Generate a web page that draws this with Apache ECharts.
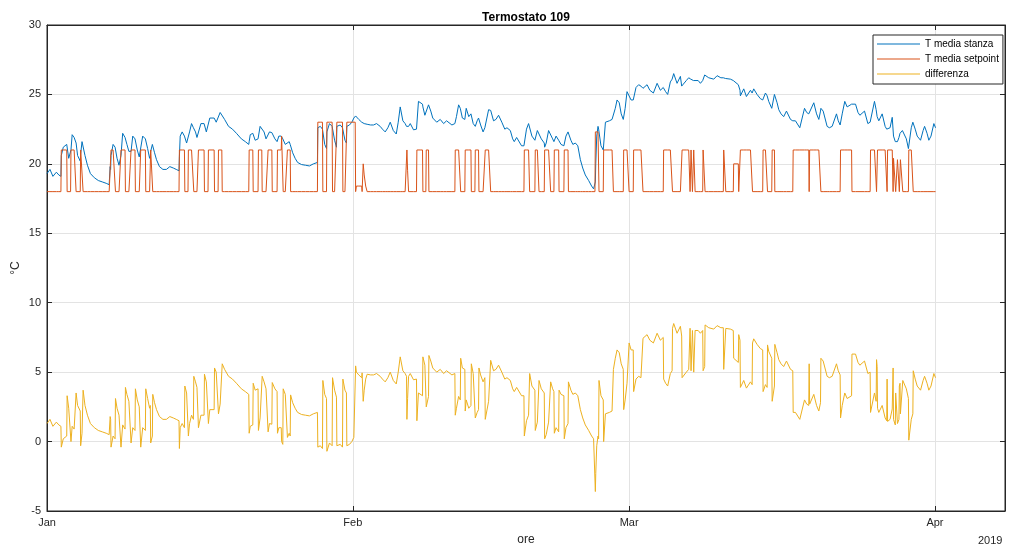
<!DOCTYPE html>
<html>
<head>
<meta charset="utf-8">
<script src="https://cdn.jsdelivr.net/npm/echarts@6/dist/echarts.min.js"></script>
<style>
html,body{margin:0;padding:0;background:#fff;}
#chart{width:1013px;height:552px;}
</style>
</head>
<body>
<div id="chart"></div>
<script>
// x values are days since 1 Jan 2019 00:00; rows are [day, T media stanza, T media setpoint]
const readingsJan = [
[0.00,19.3,18],[0.30,19.6,18],[0.60,19.1,18],[0.95,19.4,18],[1.20,19.2,18],[1.41,19.1,18],
[1.45,20.6,21],[1.65,21.2,21],[2.00,21.4,21],[2.04,21.3,18],[2.20,20.4,18],[2.39,20.3,18],
[2.43,21.0,21],[2.55,22.1,21],[2.75,21.9,21],[2.91,21.8,21],[2.95,21.5,18],[3.10,20.6,18],[3.37,20.2,18],
[3.41,20.7,21],[3.55,21.6,21],[3.62,21.7,21],[3.66,21.7,18],[3.85,20.6,18],[4.10,19.9,18],[4.40,19.3,18],[4.80,19.0,18],[5.20,18.8,18],[5.60,18.7,18],[6.00,18.6,18],[6.30,18.5,18],[6.40,19.8,18],[6.45,19.6,18],
[6.49,20.6,21],[6.70,21.4,21],[6.90,21.2,21],[6.94,21.1,18],[7.10,20.4,18],[7.30,19.9,18],[7.46,19.9,18],
[7.50,20.6,21],[7.67,22.2,21],[7.91,21.9,21],[7.95,21.9,18],[8.10,21.4,18],[8.30,20.9,18],[8.48,20.8,18],
[8.52,20.9,21],[8.69,22.0,21],[8.92,21.8,21],[8.96,21.8,18],[9.15,21.0,18],[9.35,20.5,18],[9.46,20.5,18],
[9.50,20.6,21],[9.70,22.0,21],[9.97,21.8,21],[10.01,21.8,18],[10.20,21.1,18],[10.40,20.4,18],[10.47,20.6,18],
[10.51,20.9,21],[10.68,21.4,21],[10.72,21.4,18],[10.90,20.8,18],[11.10,20.3,18],[11.40,19.8,18],[11.75,19.6,18],[12.10,19.6,18],[12.45,19.8,18],[12.80,19.7,18],[13.10,19.6,18],[13.38,19.5,18],
[13.42,20.5,21],[13.50,22.0,21],[13.70,22.3,21],[13.93,22.0,21],[13.97,22.0,18],[14.15,21.5,18],[14.29,21.4,18],
[14.33,21.4,21],[14.45,22.3,21],[14.65,22.9,21],[14.84,22.6,21],[14.88,22.7,18],[15.05,22.3,18],[15.20,21.9,18],[15.31,21.9,18],
[15.35,22.0,21],[15.60,22.9,21],[15.92,22.9,21],[15.96,22.85,18],[16.15,22.3,18],[16.32,22.3,18],
[16.36,22.3,21],[16.50,23.3,21],[16.94,23.3,21],[16.98,23.3,18],[17.15,23.0,18],[17.34,23.0,18],
[17.38,23.0,21],[17.55,23.7,21],[17.72,23.6,21],[17.76,23.6,18],[18.00,23.2,18],[18.40,22.7,18],[18.80,22.5,18],[19.20,22.2,18],[19.70,21.8,18],[20.10,21.6,18],[20.45,21.4,18],
[20.49,21.6,21],[20.60,22.1,21],[20.86,22.2,21],[20.90,22.2,18],[21.10,21.7,18],[21.39,21.8,18],
[21.43,21.8,21],[21.60,22.7,21],[21.77,22.7,21],[21.81,22.7,18],[22.00,22.3,18],[22.20,21.8,18],[22.37,21.7,18],
[22.41,21.7,21],[22.55,22.3,21],[22.79,22.25,21],[22.83,22.25,18],[23.10,21.8,18],[23.32,21.6,18],
[23.36,21.6,21],[23.50,22.0,21],[23.74,22.0,21],[23.78,22.0,22],[23.90,21.8,22],[23.94,21.8,18],[24.15,21.4,18],[24.33,21.3,18],
[24.37,21.3,21],[24.55,21.6,21],[24.65,21.4,21],[24.69,21.36,18],[24.90,20.8,18],[25.15,20.4,18],[25.40,20.1,18],[25.80,19.95,18],[26.20,19.9,18],[26.60,19.85,18],[27.00,20.0,18],[27.41,20.1,18],
[27.45,22.6,23],[27.70,22.7,23],[27.92,22.5,23],[27.96,22.4,18],[28.15,21.4,18],[28.33,21.1,18],
[28.37,22.3,23],[28.63,22.9,23],[28.90,22.7,23],[28.94,22.6,18],[29.15,21.7,18],[29.34,21.2,18],
[29.38,22.7,23],[29.72,22.8,23],[29.95,22.6,23],[29.99,22.5,18],[30.20,21.7,18],[30.35,21.5,18],
[30.39,22.7,23],[30.66,22.8,23],[30.90,23.0,23]
];
const readingsFeb = [
[31.10,23.3,23],[31.24,23.4,23],[31.28,23.45,18],[31.36,23.4,18.4],[31.60,23.2,18.4],[31.90,23.0,18.4],[31.94,22.95,18],[32.02,22.9,18],[32.05,22.9,20],[32.15,22.9,19.2],[32.30,22.9,18.4],[32.45,22.85,18],[32.80,22.8,18],[33.10,22.8,18],[33.40,22.9,18],[33.77,22.7,18],[34.00,22.5,18],[34.28,22.3,18],[34.55,22.6,18],[34.79,23.0,18],[35.10,22.4,18],[35.40,22.15,18],[35.60,23.0,18],[35.80,24.1,18],[36.07,23.1,18],[36.30,22.9,18],[36.44,22.7,18],[36.48,22.6,21],[36.55,22.6,19.5],[36.65,22.7,18],[36.82,22.9,18],[37.15,22.45,18],[37.45,22.5,18],
[37.49,22.5,21],[37.65,24.5,21],[37.83,24.6,21],[38.06,24.3,21],[38.10,24.1,18],[38.30,23.5,18],[38.40,23.4,18],
[38.44,23.5,21],[38.67,24.25,21],[38.71,24.2,18],[38.90,23.8,18],[39.10,23.3,18],[39.50,23.0,18],[39.86,23.2,18],[40.20,22.9,18],[40.50,23.1,18],[40.70,23.0,18],[41.04,22.8,18],[41.34,22.9,18],
[41.38,22.9,21],[41.50,23.4,21],[41.72,24.25,21],[41.89,24.0,21],[41.93,24.0,18],[42.10,23.3,18],[42.35,23.2,18],
[42.39,23.2,21],[42.49,24.0,21],[42.75,23.4,21],[42.97,23.6,21],[43.01,23.6,18],[43.20,22.9,18],[43.37,22.9,18],
[43.41,22.7,21],[43.60,23.1,21],[43.74,23.3,21],[43.78,23.3,18],[43.95,22.8,18],[44.20,22.3,18],[44.38,22.6,18],
[44.42,22.6,21],[44.76,23.9,21],[44.93,23.8,21],[44.97,23.85,18],[45.26,23.1,18],[45.50,23.2,18],[45.77,23.5,18],[46.10,23.0,18],[46.40,22.5,18],[46.62,22.6,18],[46.96,22.4,18],[47.20,21.8,18],[47.36,21.6,18],[47.60,21.9,18],[47.80,21.8,18],[48.10,21.3,18],[48.34,21.3,18],
[48.38,21.4,21],[48.60,22.5,21],[48.81,22.9,21],[48.88,22.9,21],[48.92,22.9,18],[49.15,22.0,18],[49.45,21.7,18],
[49.49,21.8,21],[49.70,22.4,21],[49.83,22.4,21],[49.87,22.4,18],[50.10,21.8,18],[50.40,21.5,18],
[50.44,21.2,21],[50.60,21.5,21],[50.84,22.4,21],[51.01,22.3,21],[51.05,22.3,18],[51.25,21.8,18],[51.38,21.6,18],
[51.42,21.6,21],[51.60,22.0,21],[51.86,21.7,21],[51.90,21.7,18],[52.10,21.4,18],[52.39,21.3,18],
[52.43,21.2,21],[52.60,22.0,21],[52.81,22.3,21],[52.85,22.3,18],[53.10,21.7,18],[53.30,21.4,18],[53.55,21.5,18],[53.80,21.3,18],[54.06,20.3,18],[54.30,19.7,18],[54.56,19.2,18],[54.75,19.1,18],[54.90,18.8,18],[55.20,18.4,18],[55.40,18.2,18],[55.54,18.1,18],
[55.58,18.7,22.3],[55.62,20.0,22.3],[55.72,22.0,22.3],[55.85,22.7,22.3],[55.91,22.5,22.3],[55.95,22.4,18],[56.15,21.3,18],[56.38,21.0,18],
[56.42,21.0,21],[56.60,23.0,21],[57.00,23.1,21],[57.27,23.2,21],[57.37,23.2,21],[57.41,23.2,18],[57.60,24.0,18],[57.78,24.6,18],[58.00,24.4,18],[58.20,23.6,18],[58.41,23.2,18],
[58.45,23.3,21],[58.60,24.0,21],[58.79,25.2,21],[58.96,25.1,21]
];
const readingsMar = [
[59.00,25.1,18],[59.20,24.6,18],[59.42,24.6,18],
[59.46,24.6,21],[59.70,25.5,21],[59.97,25.7,21],[60.20,25.6,21],[60.37,25.5,21],[60.41,25.44,18],[60.60,25.5,18],[60.82,25.7,18],[61.10,25.3,18],[61.46,25.1,18],[61.84,25.8,18],[62.17,25.3,18],[62.46,25.5,18],
[62.50,25.5,21],[62.70,25.2,21],[62.91,25.0,21],[63.18,25.9,21],[63.36,26.1,21],[63.40,26.16,18],[63.52,26.5,18],[63.86,25.8,18],[64.20,26.3,18],[64.33,25.6,18],
[64.37,25.6,21],[64.53,25.7,21],[64.80,26.0,21],[65.04,26.2,21],[65.14,26.1,21],[65.18,26.16,18],[65.25,26.1,18],[65.28,26.1,21],[65.38,26.0,21],[65.42,26.0,18],[65.52,26.0,18],[65.55,26.0,21],[65.65,26.0,21],[65.69,26.0,18],[66.00,26.0,18],[66.23,25.8,18],[66.46,26.0,18],
[66.50,26.1,21],[66.66,26.4,21],[66.70,26.4,18],[67.07,26.2,18],[67.58,26.1,18],[67.92,26.35,18],[68.30,26.2,18],[68.55,26.2,18],
[68.59,26.2,21],[68.76,26.15,21],[68.80,26.15,18],[69.27,26.1,18],[69.56,26.0,18],
[69.60,26.0,20],[70.07,25.7,20],[70.11,25.7,18],[70.24,25.3,18],
[70.28,24.9,21],[70.62,25.4,21],[70.89,24.85,21],[71.30,25.3,21],[71.47,25.1,21],[71.51,25.1,18],[71.63,25.4,18],[71.97,25.0,18],[72.30,24.7,18],[72.54,24.6,18],
[72.58,24.6,21],[72.82,25.1,21],[72.99,24.9,21],[73.03,24.96,18],[73.15,24.5,18],[73.46,24.0,18],
[73.50,23.9,21],[73.73,25.0,21],[73.77,25.0,18],[74.00,24.4,18],[74.17,23.9,18],[74.40,23.6,18],[74.67,23.4,18],[74.95,23.8,18],[75.36,23.2,18],[75.59,23.1,18],
[75.63,23.1,21],[75.86,23.1,21],[76.30,22.6,21],[76.78,24.0,21],[77.00,23.7,21],[77.21,23.6,21],[77.25,23.6,18],[77.30,23.7,21],[77.72,24.4,21],[78.00,23.6,21],[78.23,23.2,21],[78.40,23.8,21],[78.44,24.0,18],[78.67,23.8,18],[79.07,22.7,18],[79.30,22.6,18],[79.58,22.7,18],[80.02,23.6,18],[80.20,23.1,18],[80.39,22.8,18],
[80.43,22.7,21],[80.60,23.6,21],[80.86,24.5,21],[81.10,24.1,21],[81.27,24.0,21],[81.55,24.3,21],[81.59,24.3,18],[81.95,24.3,18],[82.20,23.7,18],[82.39,23.5,18],[82.86,23.8,18],[83.20,22.9,18],[83.43,23.0,18],
[83.47,23.1,21],[83.87,24.5,21],[84.04,23.9,21],[84.08,23.9,18],[84.14,23.4,18],
[84.18,23.4,21],[84.31,23.1,21],[84.65,23.6,21],[84.95,22.7,21],[85.11,22.5,21],[85.15,22.5,18],
[85.20,22.45,21],[85.45,22.6,21],[85.67,23.35,21],[85.72,23.3,21],[85.76,23.3,18],
[85.80,22.0,20.4],[85.98,21.6,20.4],[86.02,21.5,18],[86.17,21.5,18],[86.20,21.6,20.3],[86.35,21.9,20.3],[86.39,22.0,18],[86.46,22.2,18],[86.50,22.3,20.3],[86.70,22.4,20.3],[86.74,22.4,18],[86.84,22.45,18],[87.10,21.8,18],[87.31,21.1,18],
[87.35,21.1,21],[87.60,22.6,21],[87.76,23.0,21],[87.80,23.1,18],[88.00,22.5,18],[88.20,22.0,18],[88.54,21.7,18],[88.80,22.4,18],[88.95,22.7,18],[89.20,22.2,18],[89.38,21.7,18],[89.60,22.0,18],[89.89,22.9,18],[90.06,22.6,18]
];
const monthTicks = [0, 31, 59, 90];
const monthLabels = ['Jan', 'Feb', 'Mar', 'Apr'];
const seriesNames = ['T media stanza', 'T media setpoint', 'differenza'];

const rows = readingsJan.concat(readingsFeb, readingsMar);
const stanzaData = rows.map(r => [r[0], r[1]]);
const setpointData = rows.map(r => [r[0], r[2]]);
const diffData = rows.map(r => [r[0], Math.round((r[1] - r[2]) * 100) / 100]);

const FONT = '"Liberation Sans", Arial, Helvetica, sans-serif';
const AX = '#262626';
const X_MAX = 97.1;
const chart = echarts.init(document.getElementById('chart'), null, {renderer: 'canvas'});
chart.setOption({
  animation: false,
  backgroundColor: '#fff',
  textStyle: {fontFamily: FONT},
  title: {
    text: 'Termostato 109', left: 521, top: 7, textAlign: 'center',
    textStyle: {fontFamily: FONT, fontSize: 12, fontWeight: 'bold', color: '#000'}
  },
  legend: {
    data: seriesNames, orient: 'vertical', left: 873, top: 35,
    backgroundColor: '#fff', borderColor: AX, borderWidth: 1, borderRadius: 0,
    padding: [4, 4, 5, 4], itemGap: 5, itemWidth: 43, itemHeight: 11,
    icon: 'path://M0,0 L43,0 L43,1 L0,1 Z', symbolKeepAspect: true,
    textStyle: {fontFamily: FONT, fontSize: 10, color: '#000'}
  },
  grid: {left: 47, right: 8, top: 25, bottom: 41, show: true, borderColor: AX, borderWidth: 1, backgroundColor: '#fff', containLabel: false, outerBoundsMode: 'none'},
  xAxis: [{
    type: 'value', min: 0, max: X_MAX,
    name: 'ore', nameLocation: 'middle', nameGap: 23,
    nameTextStyle: {fontFamily: FONT, fontSize: 12, color: AX},
    axisLine: {show: true, onZero: false, lineStyle: {color: AX, width: 1}},
    axisTick: {show: true, inside: true, length: 5, lineStyle: {color: AX}, customValues: monthTicks},
    axisLabel: {
      show: true, margin: 6, color: AX, fontSize: 11, fontFamily: FONT, customValues: monthTicks,
      formatter: v => { const i = monthTicks.indexOf(v); return i >= 0 ? monthLabels[i] : ''; }
    },
    splitLine: {show: true, lineStyle: {color: '#e3e3e3', width: 1}}
  }, {
    type: 'value', min: 0, max: X_MAX, position: 'top',
    axisLine: {show: true, onZero: false, lineStyle: {color: AX, width: 1}},
    axisTick: {show: true, inside: true, length: 5, lineStyle: {color: AX}, customValues: monthTicks},
    axisLabel: {show: false}, splitLine: {show: false}
  }],
  yAxis: [{
    type: 'value', min: -5, max: 30, interval: 5,
    name: '°C', nameLocation: 'middle', nameGap: 25, nameRotate: 90, nameMoveOverlap: false,
    nameTextStyle: {fontFamily: FONT, fontSize: 12, color: AX},
    axisLine: {show: true, onZero: false, lineStyle: {color: AX, width: 1}},
    axisTick: {show: true, inside: true, length: 5, lineStyle: {color: AX}},
    axisLabel: {margin: 6, color: AX, fontSize: 11, fontFamily: FONT},
    splitLine: {show: true, lineStyle: {color: '#e3e3e3', width: 1}}
  }, {
    type: 'value', min: -5, max: 30, interval: 5, position: 'right',
    axisLine: {show: true, onZero: false, lineStyle: {color: AX, width: 1}},
    axisTick: {show: true, inside: true, length: 5, lineStyle: {color: AX}},
    axisLabel: {show: false}, splitLine: {show: false}
  }],
  graphic: [{
    type: 'text', left: 978, top: 535,
    style: {text: '2019', fontFamily: FONT, fontSize: 11, fill: AX}
  }],
  series: [
    {name: seriesNames[0], type: 'line', data: stanzaData, showSymbol: false, symbol: 'none',
     lineStyle: {width: 1, color: '#0072BD'}, itemStyle: {color: '#0072BD'}, z: 2},
    {name: seriesNames[1], type: 'line', data: setpointData, showSymbol: false, symbol: 'none',
     lineStyle: {width: 1, color: '#D95319'}, itemStyle: {color: '#D95319'}, z: 3},
    {name: seriesNames[2], type: 'line', data: diffData, showSymbol: false, symbol: 'none',
     lineStyle: {width: 1, color: '#EDB120'}, itemStyle: {color: '#EDB120'}, z: 4}
  ]
});
</script>
</body>
</html>
